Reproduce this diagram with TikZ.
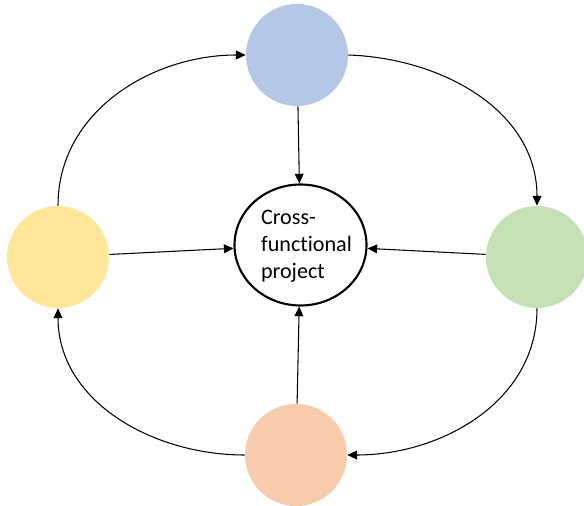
\documentclass[tikz,border=0pt]{standalone}
\usepackage{fontspec}
\setmainfont{Carlito}[Ligatures=NoCommon]
\usetikzlibrary{arrows.meta,shapes.geometric}

\definecolor{teamblue}{HTML}{B4C7E7}
\definecolor{teamyellow}{HTML}{FFE699}
\definecolor{teamgreen}{HTML}{C5E0B4}
\definecolor{teamorange}{HTML}{F8CBAD}

\tikzset{
  team/.style={circle, minimum size=102*0.02cm, inner sep=0pt},
  flow/.style={-{Triangle[length=5.5pt,width=5pt]}, line width=0.6pt},
}

\begin{document}
\begin{tikzpicture}[x=0.02cm, y=-0.02cm]
  \useasboundingbox (0,0) rectangle (584,506);
  % Departments round the project
  \node[team, fill=teamblue]   (top)    at (297,55)  {};
  \node[team, fill=teamyellow] (left)   at (58,257)  {};
  \node[team, fill=teamgreen]  (right)  at (537,257) {};
  \node[team, fill=teamorange] (bottom) at (296,455) {};
  % Project in the middle, its text a little right of centre
  \node[ellipse, draw, line width=1.2pt, minimum width=132*0.02cm,
        minimum height=121*0.02cm, inner sep=0pt,
        label={[align=left, xshift=0.12cm, yshift=-0.03cm,
                font=\fontsize{12.6}{15.3}\selectfont]center:Cross-\\functional\\project}]
        (project) at (300.5,245) {};
  % Spokes into the project
  \draw[flow] (top) -- (project);
  \draw[flow] (left) -- (project);
  \draw[flow] (right) -- (project);
  \draw[flow] (bottom) -- (project);
  % Cycle round the outside
  \draw[flow] (left.north) to[out=90, in=180] (top.west);
  \draw[flow] (top.east) to[out=-2, in=90] (right.north);
  \draw[flow] (right.south) to[out=-90, in=0] (bottom.east);
  \draw[flow] (bottom.west) to[out=180, in=-90] (left.south);
\end{tikzpicture}
\end{document}
